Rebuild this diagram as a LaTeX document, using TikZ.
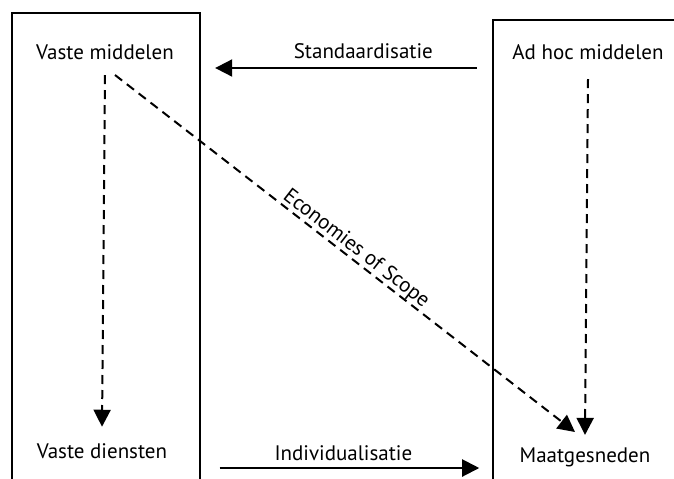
\documentclass[tikz,border=0pt]{standalone}
\usepackage{fontspec}
\setmainfont{PT Sans}
\usetikzlibrary{arrows.meta}
\begin{document}
\begin{tikzpicture}[x=0.5pt,y=-0.5pt,font=\fontsize{10.5}{12}\selectfont,
  lbl/.style={anchor=base,inner sep=0pt},
  arr/.style={-{Triangle[length=8.5pt,width=8.5pt]},line width=1pt},
  dashline/.style={arr,dash pattern=on 4.5pt off 3pt}]
\useasboundingbox (0,0) rectangle (674,478);
\draw[line width=1pt] (12,480) -- (12,13) -- (200,13) -- (200,480);
\draw[line width=1pt] (493,480) -- (493,20) -- (676,20);

\node[lbl] (vm) at (105,59) {Vaste middelen};
\node[lbl] (ahm) at (588,59) {Ad hoc middelen};
\node[lbl] (vd) at (102,458) {Vaste diensten};
\node[lbl] (mg) at (585,462) {Maatgesneden};

\draw[arr,shorten <=17.5pt,shorten >=20.5pt] ([yshift=-4.5pt]ahm.base west) -- node[lbl,pos=0.44,yshift=5pt] (std) {Standaardisatie} ([yshift=-4.5pt]vm.base east);
\draw[arr,shorten <=26pt,shorten >=20pt] ([yshift=-5pt]vd.base east) -- node[lbl,pos=0.5,yshift=4pt] (ind) {Individualisatie} ([yshift=-3pt]mg.base west);

\draw[dashline] ([yshift=-8pt]vm.base) -- ([yshift=8pt]vd.north);
\draw[dashline] ([yshift=-10pt]ahm.base) -- ([yshift=6pt]mg.north);
\draw[dashline] ([shift={(10,16)}]vm.base) -- node[sloped,above=0pt,pos=0.51,inner sep=0pt] (eos) {Economies of Scope} ([shift={(-10,-30)}]mg.base);
\end{tikzpicture}
\end{document}
